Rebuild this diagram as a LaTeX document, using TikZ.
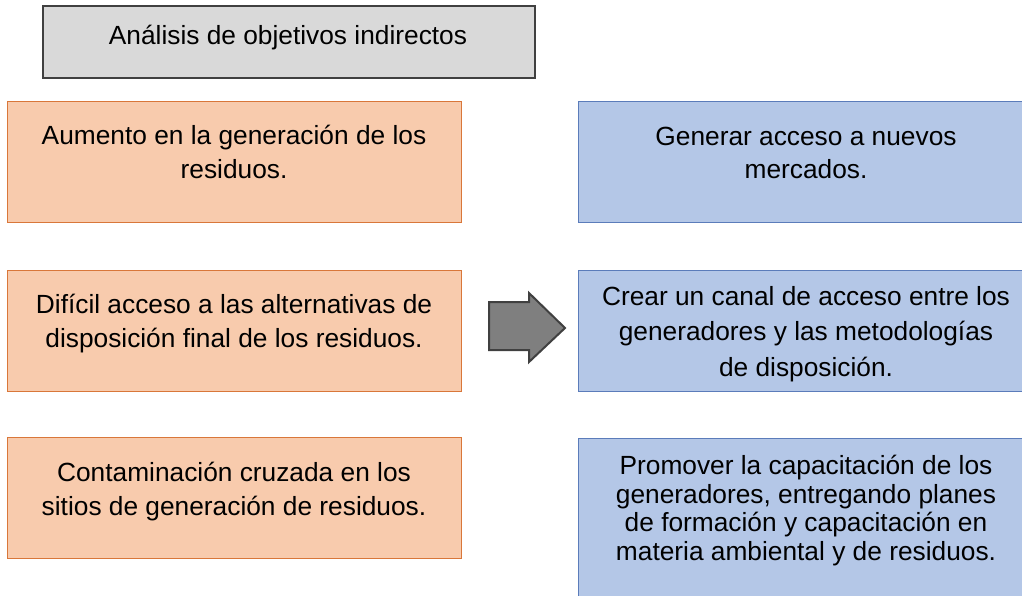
\documentclass[tikz,border=0pt]{standalone}
\usepackage{fontspec}
\setmainfont{Liberation Sans}
\definecolor{orfill}{HTML}{F8CBAD}
\definecolor{ordraw}{HTML}{D9773A}
\definecolor{blfill}{HTML}{B4C7E7}
\definecolor{bldraw}{HTML}{5B7CBA}
\definecolor{grfill}{HTML}{D9D9D9}
\definecolor{grdraw}{HTML}{404040}
\definecolor{arfill}{HTML}{7F7F7F}
\tikzset{
  box/.style={anchor=north west, inner sep=0pt, line width=1.3pt},
  orbox/.style={box, draw=ordraw, fill=orfill, minimum width=454pt, minimum height=121pt},
  blbox/.style={box, draw=bldraw, fill=blfill, minimum width=456pt},
  titlebox/.style={box, draw=grdraw, fill=grfill, line width=2pt, minimum width=492pt, minimum height=72pt},
  txt/.style={anchor=north, inner sep=0pt, text height=0pt, align=center},
}
\newcommand\fs[1]{\fontsize{26.3}{#1}\selectfont\lineskiplimit=-100pt\relax}
\begin{document}
\begin{tikzpicture}[x=1pt,y=-1pt]
\useasboundingbox (0,0) rectangle (1022,596);
\clip (0,0) rectangle (1022,596);
\node[titlebox] (title) at (42,5) {};
\node[orbox] (o1) at (7,101) {};
\node[orbox] (o2) at (7,270) {};
\node[orbox] (o3) at (7,437) {};
\node[blbox, minimum height=121pt] (b1) at (578,101) {};
\node[blbox, minimum height=121pt] (b2) at (578,270) {};
\node[blbox, minimum height=180pt] (b3) at (578,438) {};
\node[txt, font=\fs{28}] (titlet) at (288,44) {Análisis de objetivos indirectos};
\node[txt, font=\fs{34}] (o1t) at (234,178) {Aumento en la generación de los\\residuos.};
\node[txt, font=\fs{34}] (o2t) at (234,347) {Difícil acceso a las alternativas de\\disposición final de los residuos.};
\node[txt, font=\fs{34}] (o3t) at (234,515) {Contaminación cruzada en los\\sitios de generación de residuos.};
\node[txt, font=\fs{33}] (b1t) at (806,178) {Generar acceso a nuevos\\mercados.};
\node[txt, font=\fs{35.5}] (b2t) at (806,376) {Crear un canal de acceso entre los\\generadores y las metodologías\\de disposición.};
\node[txt, font=\fs{28.5}] (b3t) at (806,560) {Promover la capacitación de los\\generadores, entregando planes\\de formación y capacitación en\\materia ambiental y de residuos.};
\draw[line width=2pt, draw=grdraw, fill=arfill, line join=miter]
  (489,302) -- (529,302) -- (529,293) -- (565,328) -- (529,362) -- (529,350) -- (489,350) -- cycle;
\end{tikzpicture}
\end{document}
